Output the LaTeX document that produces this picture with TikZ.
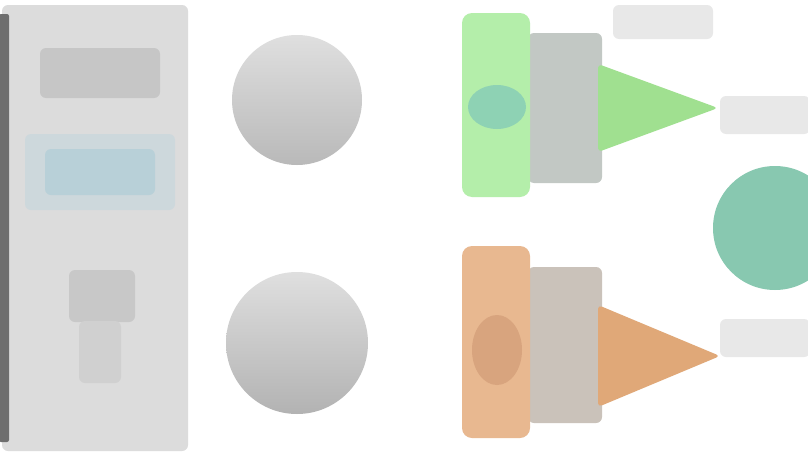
\documentclass[tikz,border=0pt]{standalone}
\usetikzlibrary{shapes.geometric}
\definecolor{panelgray}{HTML}{DCDCDC}
\definecolor{bargray}{HTML}{6E6E6E}
\definecolor{blockgray}{HTML}{C6C6C6}
\definecolor{softblue}{HTML}{B8D0D8}
\definecolor{halo}{HTML}{CDD8DC}
\definecolor{mgreen}{HTML}{B4EEAA}
\definecolor{tgreen}{HTML}{8ED2B4}
\definecolor{trigreen}{HTML}{A0E090}
\definecolor{midgray}{HTML}{C2C8C4}
\definecolor{morange}{HTML}{E8B890}
\definecolor{dorange}{HTML}{D8A47E}
\definecolor{triorange}{HTML}{E0A878}
\definecolor{midwarm}{HTML}{CAC2BA}
\definecolor{tealc}{HTML}{88C8B0}
\definecolor{smudge}{HTML}{E8E8E8}
\tikzset{
  flatbox/.style={draw=none, rectangle, rounded corners=6pt, inner sep=0pt},
  disc/.style={draw=none, circle, inner sep=0pt},
  smear/.style={flatbox, fill=smudge}
}
\begin{document}
\begin{tikzpicture}[x=1pt,y=-1pt]
\useasboundingbox (0,0) rectangle (808,455);
\fill[white] (0,0) rectangle (808,455);
% left panel
\node[flatbox, fill=panelgray, minimum width=186pt, minimum height=446pt] (panel) at (95,228) {};
\node[flatbox, rounded corners=2pt, fill=bargray, minimum width=10pt, minimum height=428pt] (bar) at (4,228) {};
\node[flatbox, fill=blockgray, minimum width=120pt, minimum height=50pt] (title) at (100,73) {};
\node[flatbox, fill=halo, minimum width=150pt, minimum height=76pt] (halo) at (100,172) {};
\node[flatbox, fill=softblue, minimum width=110pt, minimum height=46pt] (blue) at (100,172) {};
\node[flatbox, fill=blockgray!90!panelgray, minimum width=66pt, minimum height=52pt] (low1) at (102,296) {};
\node[flatbox, fill=blockgray!55!panelgray, minimum width=42pt, minimum height=62pt] (low2) at (100,352) {};
% gray circles
\node[disc, minimum size=130pt, top color=gray!25, bottom color=gray!55] (c1) at (297,100) {};
\node[disc, minimum size=142pt, top color=gray!25, bottom color=gray!60] (c2) at (297,343) {};
% green branch
\node[smear, minimum width=100pt, minimum height=34pt] (gtext) at (663,22) {};
\node[flatbox, fill=midgray, minimum width=74pt, minimum height=150pt] (gmid) at (565,108) {};
\node[flatbox, rounded corners=10pt, fill=mgreen, minimum width=68pt, minimum height=184pt] (genc) at (496,105) {};
\node[draw=none, ellipse, fill=tgreen, minimum width=58pt, minimum height=44pt] (gcore) at (497,107) {};
\coordinate (g1) at (598,64);
\coordinate (g2) at (718,108);
\coordinate (g3) at (598,152);
\fill[trigreen, rounded corners=4pt] (g1) -- (g2) -- (g3) -- cycle;
\node[smear, minimum width=90pt, minimum height=38pt] (gout) at (765,115) {};
% teal circle
\node[disc, fill=tealc, minimum size=124pt] (res) at (775,228) {};
% orange branch
\node[flatbox, fill=midwarm, minimum width=74pt, minimum height=156pt] (omid) at (565,345) {};
\node[flatbox, rounded corners=10pt, fill=morange, minimum width=68pt, minimum height=192pt] (oenc) at (496,342) {};
\node[draw=none, ellipse, fill=dorange, minimum width=50pt, minimum height=70pt] (ocore) at (497,350) {};
\coordinate (o1) at (598,305);
\coordinate (o2) at (720,356);
\coordinate (o3) at (598,407);
\fill[triorange, rounded corners=4pt] (o1) -- (o2) -- (o3) -- cycle;
\node[smear, minimum width=90pt, minimum height=38pt] (oout) at (765,338) {};
\end{tikzpicture}
\end{document}
